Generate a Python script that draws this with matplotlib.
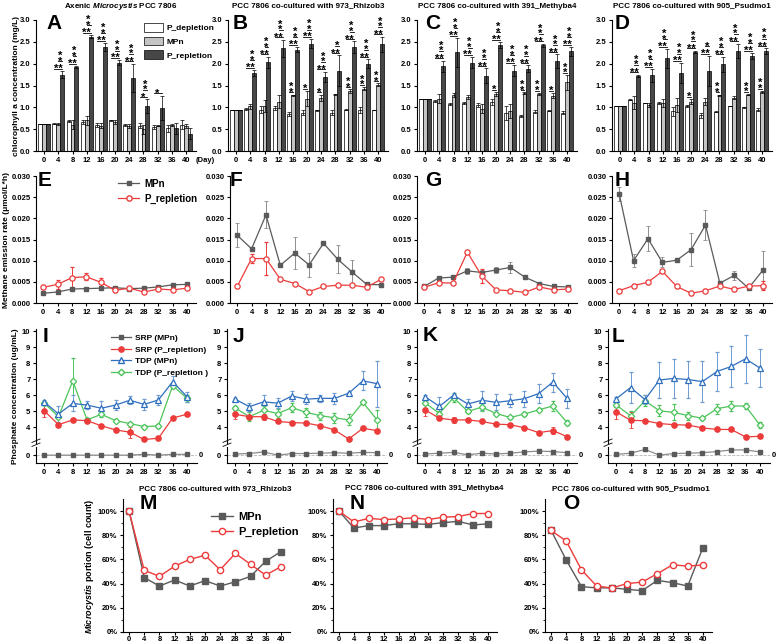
import numpy as np
import matplotlib.pyplot as plt
from matplotlib.lines import Line2D
from matplotlib.patches import Patch

plt.rcParams['font.family'] = ['Liberation Sans', 'DejaVu Sans']
plt.rcParams['font.weight'] = 'bold'
plt.rcParams['mathtext.fontset'] = 'custom'
plt.rcParams['mathtext.rm'] = 'Liberation Sans:bold'
plt.rcParams['mathtext.bfit'] = 'Liberation Sans:bold:italic'

# ---- data ----
days = [0, 4, 8, 12, 16, 20, 24, 28, 32, 36, 40]

titles = ['Axenic $\\mathbfit{Microcystis}$ PCC 7806',
          'PCC 7806 co-cultured with 973_Rhizob3',
          'PCC 7806 co-cultured with 391_Methyba4',
          'PCC 7806 co-cultured with 905_Psudmo1']

# chlorophyll a (mg/L)
dep_A = [0.62, 0.62, 0.68, 0.66, 0.60, 0.70, 0.60, 0.58, 0.55, 0.52, 0.60]
dep_A_err = [0, 0.01, 0.02, 0.04, 0.05, 0.02, 0.02, 0.05, 0.05, 0.08, 0.1]
mpn_A = [0.62, 0.62, 0.60, 0.70, 0.58, 0.67, 0.57, 0.50, 0.58, 0.60, 0.57]
mpn_A_err = [0, 0.02, 0.1, 0.1, 0.05, 0.05, 0.05, 0.1, 0.01, 0.02, 0.05]
rep_A = [0.62, 1.75, 1.93, 2.62, 2.38, 2.02, 1.67, 1.03, 0.99, 0.52, 0.40]
rep_A_err = [0, 0.08, 0.02, 0.04, 0.1, 0.06, 0.33, 0.15, 0.28, 0.12, 0.13]

dep_B = [0.93, 0.96, 0.95, 0.98, 0.85, 0.88, 0.93, 0.88, 0.95, 0.94, 0.94]
dep_B_err = [0, 0.02, 0.08, 0.05, 0.04, 0.06, 0.02, 0.06, 0.02, 0.06, 0.01]
mpn_B = [0.93, 1.02, 1.03, 1.13, 1.28, 1.20, 1.22, 1.30, 1.37, 1.43, 1.52]
mpn_B_err = [0, 0.05, 0.14, 0.15, 0.01, 0.17, 0.07, 0.01, 0.04, 0.03, 0.03]
rep_B = [0.93, 1.79, 2.03, 2.35, 2.32, 2.46, 1.70, 1.84, 2.38, 2.00, 2.44]
rep_B_err = [0, 0.07, 0.13, 0.2, 0.06, 0.1, 0.12, 0.35, 0.13, 0.1, 0.18]

dep_C = [1.2, 1.15, 1.07, 1.10, 1.06, 1.12, 0.87, 0.80, 0.90, 0.92, 0.88]
dep_C_err = [0, 0.02, 0.02, 0.02, 0.05, 0.06, 0.15, 0.03, 0.03, 0.01, 0.04]
mpn_C = [1.2, 1.20, 1.28, 1.23, 0.97, 1.31, 0.92, 1.32, 1.31, 1.27, 1.57]
mpn_C_err = [0, 0.1, 0.04, 0.05, 0.1, 0.04, 0.16, 0.02, 0.02, 0.06, 0.17]
rep_C = [1.2, 1.94, 2.26, 2.02, 1.72, 2.43, 1.84, 1.88, 2.42, 2.06, 2.28]
rep_C_err = [0, 0.13, 0.33, 0.13, 0.17, 0.07, 0.13, 0.08, 0.04, 0.15, 0.1]

dep_D = [1.02, 1.17, 1.10, 1.10, 0.91, 1.03, 0.82, 0.90, 1.03, 1.00, 0.95]
dep_D_err = [0, 0.01, 0.01, 0.03, 0.1, 0.03, 0.06, 0.01, 0.01, 0.01, 0.04]
mpn_D = [1.02, 1.11, 1.06, 1.10, 1.06, 1.13, 1.13, 1.28, 1.22, 1.29, 1.35]
mpn_D_err = [0, 0.15, 0.05, 0.1, 0.16, 0.06, 0.08, 0.01, 0.04, 0.01, 0.03]
rep_D = [1.02, 1.72, 1.73, 2.12, 1.78, 2.27, 1.83, 1.99, 2.29, 2.18, 2.29]
rep_D_err = [0, 0.03, 0.15, 0.22, 0.23, 0.03, 0.35, 0.17, 0.17, 0.07, 0.06]

# significance: depletion-vs-MPn, depletion-vs-repletion, MPn-vs-repletion
sig_wg_A = [''] * 11
sig_dr_A = ['', '**', '**', '**', '**', '**', '**', '*', '*', '', '']
sig_gr_A = ['', '**', '**', '**', '**', '**', '**', '**', '', '', '']
sig_wg_B = ['', '', '', '', '**', '*', '*', '', '**', '**', '**']
sig_dr_B = [''] + ['**'] * 10
sig_gr_B = ['', '**', '**', '**', '**', '**', '**', '*', '**', '**', '**']
sig_wg_C = ['', '', '', '', '', '*', '', '**', '**', '*', '**']
sig_dr_C = [''] + ['**'] * 10
sig_gr_C = [''] + ['**'] * 10
sig_wg_D = ['', '', '', '', '', '*', '', '**', '', '**', '**']
sig_dr_D = [''] + ['**'] * 10
sig_gr_D = ['', '**', '**', '**', '**', '**', '*', '**', '**', '**', '**']

# methane emission rate (umol/L*h)
ch4_mpn_E = [0.0023, 0.0026, 0.0033, 0.0034, 0.0035, 0.0036, 0.0034, 0.0035, 0.0038, 0.0043, 0.0044]
ch4_mpn_E_err = [0.0003] * 11
ch4_rep_E = [0.0037, 0.0044, 0.0060, 0.0062, 0.0049, 0.0030, 0.0035, 0.0026, 0.0033, 0.0031, 0.0035]
ch4_rep_E_err = [0.0005, 0.001, 0.0025, 0.0008, 0.001, 0.0003, 0.0003, 0.0003, 0.0003, 0.0003, 0.0003]
ch4_mpn_F = [0.0160, 0.0128, 0.0208, 0.0089, 0.0118, 0.0090, 0.0141, 0.0103, 0.0073, 0.0044, 0.0043]
ch4_mpn_F_err = [0.0028, 0.0003, 0.0032, 0.0005, 0.0037, 0.0028, 0.0003, 0.0033, 0.0028, 0.0003, 0.0003]
ch4_rep_F = [0.0039, 0.0105, 0.0105, 0.0056, 0.0046, 0.0027, 0.0039, 0.0042, 0.0042, 0.0037, 0.0056]
ch4_rep_F_err = [0.0003, 0.001, 0.0038, 0.0003, 0.0003, 0.0003, 0.0003, 0.0003, 0.0003, 0.0003, 0.0003]
ch4_mpn_G = [0.0039, 0.0059, 0.0061, 0.0076, 0.0072, 0.0078, 0.0084, 0.0061, 0.0046, 0.0039, 0.0038]
ch4_mpn_G_err = [0.0003, 0.0003, 0.0003, 0.0007, 0.0005, 0.0008, 0.0014, 0.0003, 0.0003, 0.0003, 0.0003]
ch4_rep_G = [0.0037, 0.0048, 0.0047, 0.0120, 0.0064, 0.0031, 0.0029, 0.0025, 0.0038, 0.0031, 0.0033]
ch4_rep_G_err = [0.0003, 0.0003, 0.0003, 0.0003, 0.0017, 0.0003, 0.0003, 0.0003, 0.0003, 0.0003, 0.0003]
ch4_mpn_H = [0.0258, 0.0100, 0.0152, 0.0096, 0.0101, 0.0126, 0.0184, 0.0047, 0.0065, 0.0035, 0.0078]
ch4_mpn_H_err = [0.0017, 0.0015, 0.003, 0.0012, 0.0003, 0.0039, 0.0035, 0.0003, 0.001, 0.0005, 0.0044]
ch4_rep_H = [0.0029, 0.0041, 0.0049, 0.0075, 0.0039, 0.0023, 0.0029, 0.0040, 0.0032, 0.0040, 0.0041]
ch4_rep_H_err = [0.0003, 0.0003, 0.0003, 0.0003, 0.0003, 0.0003, 0.0003, 0.0003, 0.0003, 0.0003, 0.001]

# phosphate (ug/mL)
srp_mpn_I = [0.0, 0.0, 0.0, 0.0, 0.0, 0.0, 0.0, 0.05, 0.0, 0.05, 0.05]
srp_rep_I = [5.02, 4.15, 4.45, 4.40, 4.08, 3.82, 3.68, 3.22, 3.30, 4.57, 4.80]
srp_rep_I_err = [0.4, 0.1, 0.1, 0.1, 0.1, 0.1, 0.35, 0.1, 0.1, 0.1, 0.1]
tdp_mpn_I = [5.58, 4.82, 5.48, 5.38, 5.18, 5.38, 5.68, 5.42, 5.70, 6.85, 5.90]
tdp_mpn_I_err = [0.1, 0.5, 0.5, 0.25, 0.45, 0.3, 0.25, 0.35, 0.3, 0.35, 0.3]
tdp_rep_I = [5.50, 4.65, 6.90, 4.45, 4.80, 4.40, 4.22, 4.03, 4.07, 6.60, 5.80]
tdp_rep_I_err = [0.1, 0.1, 1.45, 0.1, 0.2, 0.1, 0.1, 0.1, 0.1, 0.1, 0.2]

srp_mpn_J = [0.07, 0.1, 0.2, 0.0, 0.1, 0.1, 0.12, 0.15, 0.12, 0.17, 0.15]
srp_rep_J = [4.80, 4.65, 4.65, 4.35, 4.28, 4.25, 4.08, 3.82, 3.25, 3.92, 3.78]
srp_rep_J_err = [0.3, 0.1, 0.2, 0.1, 0.1, 0.1, 0.1, 0.15, 0.1, 0.1, 0.1]
tdp_mpn_J = [5.75, 5.28, 5.58, 5.50, 5.95, 5.75, 5.80, 5.80, 6.12, 6.90, 6.72]
tdp_mpn_J_err = [0.1, 0.25, 0.45, 0.3, 0.3, 0.3, 0.2, 0.35, 0.1, 0.6, 1.45]
tdp_rep_J = [5.20, 4.65, 5.05, 4.85, 5.22, 4.92, 4.72, 4.58, 4.45, 5.55, 4.45]
tdp_rep_J_err = [0.1, 0.3, 0.3, 0.3, 0.3, 0.3, 0.25, 0.3, 0.35, 0.1, 0.6]

srp_mpn_K = [0.07, 0.12, 0.17, 0.02, 0.12, 0.07, 0.12, 0.2, 0.25, 0.22, 0.15]
srp_rep_K = [5.08, 4.55, 4.45, 4.45, 4.35, 4.18, 4.15, 3.95, 3.65, 3.78, 3.40]
srp_rep_K_err = [0.4, 0.1, 0.2, 0.1, 0.1, 0.1, 0.1, 0.1, 0.1, 0.2, 0.1]
tdp_mpn_K = [5.90, 5.30, 6.00, 5.45, 5.68, 5.55, 5.65, 5.78, 6.10, 6.82, 5.80]
tdp_mpn_K_err = [0.1, 0.6, 0.1, 0.3, 0.6, 0.5, 0.4, 0.5, 0.6, 0.6, 0.6]
tdp_rep_K = [5.52, 4.85, 5.85, 4.98, 5.25, 4.85, 4.60, 4.82, 5.08, 5.32, 4.28]
tdp_rep_K_err = [0.1, 0.15, 0.3, 0.1, 0.25, 0.1, 0.1, 0.1, 0.1, 0.3, 0.15]

srp_mpn_L = [0.05, 0.12, 0.35, 0.0, 0.1, 0.12, 0.15, 0.22, 0.32, 0.32, 0.2]
srp_rep_L = [4.95, 4.42, 4.40, 4.22, 4.15, 4.12, 3.95, 3.85, 3.85, 3.38, 3.42]
srp_rep_L_err = [0.45, 0.5, 0.1, 0.1, 0.1, 0.1, 0.1, 0.1, 0.1, 0.1, 0.1]
tdp_mpn_L = [5.78, 6.48, 5.72, 6.95, 7.05, 6.98, 6.85, 7.48, 7.80, 8.28, 7.70]
tdp_mpn_L_err = [0.1, 1.0, 0.3, 1.1, 1.2, 1.15, 1.3, 1.2, 1.3, 1.5, 1.2]
tdp_rep_L = [5.38, 4.70, 5.65, 5.02, 4.92, 4.72, 4.55, 5.15, 5.32, 5.32, 4.12]
tdp_rep_L_err = [0.1, 0.3, 0.35, 0.35, 0.5, 0.25, 0.1, 0.3, 0.3, 0.2, 0.2]

# Microcystis portion (%)
por_mpn_M = [100, 45, 38, 43, 38, 42.5, 38, 41.5, 46, 58.5, 66.5]
por_rep_M = [100, 51, 46, 54.5, 60, 63.5, 51.5, 65, 56, 47, 54]
por_mpn_N = [100, 86, 88, 88, 89.5, 89.5, 89, 90.5, 91.5, 88.5, 89.5]
por_rep_N = [100, 91, 94, 93, 93.5, 94.5, 93, 95, 95.5, 98, 98]
por_mpn_O = [84, 59.5, 37.5, 36.5, 36.5, 35.3, 34.2, 42.7, 40.8, 38, 69.7]
por_rep_O = [84, 75.2, 51.5, 38, 36.4, 40, 41.3, 48.2, 55.6, 54.5, 55.4]

# ---- layout helpers ----
W, H = 778, 644
fig = plt.figure(figsize=(W / 100, H / 100), dpi=100)


def box(l, t, r, b):
    return [l / W, 1 - b / H, (r - l) / W, (b - t) / H]


def ftext(x, y, s, **kw):
    fig.text(x / W, 1 - y / H, s, **kw)


def style(ax, fs=5.5):
    ax.spines['top'].set_visible(False)
    ax.spines['right'].set_visible(False)
    ax.tick_params(labelsize=fs, width=0.8, length=2.5, pad=1.5)


GRAY = '#5a5a5a'
RED = '#ec3b3b'
BLUE = '#2f6fbf'
GREEN = '#4cc45a'
x = np.array(days)

# ---- row 1: chlorophyll bars ----
bar_sets = [(dep_A, dep_A_err, mpn_A, mpn_A_err, rep_A, rep_A_err, sig_wg_A, sig_dr_A, sig_gr_A),
            (dep_B, dep_B_err, mpn_B, mpn_B_err, rep_B, rep_B_err, sig_wg_B, sig_dr_B, sig_gr_B),
            (dep_C, dep_C_err, mpn_C, mpn_C_err, rep_C, rep_C_err, sig_wg_C, sig_dr_C, sig_gr_C),
            (dep_D, dep_D_err, mpn_D, mpn_D_err, rep_D, rep_D_err, sig_wg_D, sig_dr_D, sig_gr_D)]
row1_left = [36, 228, 417, 612]
bw = 1.1
ekw = dict(lw=0.5, capsize=1.5, capthick=0.5, ecolor='k')


def stars(ax, xc, y, label, stacked):
    # star glyph sits high in the em box, so anchor on the baseline below the line
    s = '\n'.join(label) if stacked else label
    ax.text(xc, y - 0.075, s, ha='center', va='baseline', fontsize=8, linespacing=0.47)


for k, (dep, dep_e, mpn, mpn_e, rep, rep_e, wg, dr, gr) in enumerate(bar_sets):
    l = row1_left[k]
    ax = fig.add_axes(box(l, 20, l + 160, 151))
    ax.bar(x - bw, dep, bw, yerr=dep_e, color='white', edgecolor='k', lw=0.5, error_kw=ekw)
    ax.bar(x, mpn, bw, yerr=mpn_e, color='#c4c4c4', edgecolor='k', lw=0.5, error_kw=ekw)
    ax.bar(x + bw, rep, bw, yerr=rep_e, color='#474747', edgecolor='k', lw=0.5, error_kw=ekw)
    for i, d in enumerate(days):
        top = rep[i] + rep_e[i] + 0.05
        if dr[i]:
            ax.plot([d - bw, d + bw], [top, top], color='k', lw=0.6)
            stars(ax, d, top, dr[i], False)
            top += 0.17
        if gr[i]:
            ax.plot([d, d + bw], [top, top], color='k', lw=0.6)
            stars(ax, d + bw / 2, top, gr[i], True)
        if wg[i]:
            yw = max(dep[i] + dep_e[i], mpn[i] + mpn_e[i]) + 0.05
            ax.plot([d - bw, d], [yw, yw], color='k', lw=0.6)
            stars(ax, d - bw / 2, yw, wg[i], True)
    ax.set_xlim(-2.3, 42.8)
    ax.set_ylim(0, 3.0)
    ax.set_xticks(days)
    ax.set_yticks([0, 0.5, 1.0, 1.5, 2.0, 2.5, 3.0])
    ax.set_yticklabels(['0.0', '0.5', '1.0', '1.5', '2.0', '2.5', '3.0'])
    style(ax)
    ftext(l + 80 + (5 if k == 0 else 0), 6, titles[k], ha='center', va='center', fontsize=5.8)
    if k == 0:
        ax.legend(handles=[Patch(facecolor='white', edgecolor='k', lw=0.5),
                           Patch(facecolor='#c4c4c4', edgecolor='k', lw=0.5),
                           Patch(facecolor='#474747', edgecolor='k', lw=0.5)],
                  labels=['P_depletion', 'MPn', 'P_repletion'],
                  loc='upper left', bbox_to_anchor=(140 / W, 1 - 19 / H), bbox_transform=fig.transFigure,
                  frameon=False, fontsize=6, handlelength=2.2, handleheight=1.2,
                  labelspacing=0.55, borderpad=0, handletextpad=0.5)

ftext(205, 160, '(Day)', ha='center', va='center', fontsize=5.5)
ftext(17, 86, 'chlorophyll a concentration (mg/L)', rotation=90, ha='center', va='center', fontsize=6)

# ---- row 2: methane ----
ch4_sets = [(ch4_mpn_E, ch4_mpn_E_err, ch4_rep_E, ch4_rep_E_err),
            (ch4_mpn_F, ch4_mpn_F_err, ch4_rep_F, ch4_rep_F_err),
            (ch4_mpn_G, ch4_mpn_G_err, ch4_rep_G, ch4_rep_G_err),
            (ch4_mpn_H, ch4_mpn_H_err, ch4_rep_H, ch4_rep_H_err)]
row2_left = [36, 230, 417, 612]
for k, (mpn, mpn_e, rep, rep_e) in enumerate(ch4_sets):
    l = row2_left[k]
    ax = fig.add_axes(box(l, 176, l + 160, 303))
    ax.errorbar(days, mpn, yerr=mpn_e, color=GRAY, marker='s', ms=3.5, lw=0.9,
                ecolor='#8c8c8c', elinewidth=0.7, capsize=1.5, capthick=0.6)
    ax.errorbar(days, rep, yerr=rep_e, color=RED, marker='o', ms=3.8, mfc='white', mew=0.9, lw=0.9,
                ecolor=RED, elinewidth=0.7, capsize=1.5, capthick=0.6)
    ax.set_xlim(-2, 42.5)
    ax.set_ylim(0, 0.030)
    ax.set_xticks(days)
    ax.set_yticks([0, 0.005, 0.010, 0.015, 0.020, 0.025, 0.030])
    ax.set_yticklabels(['0.000', '0.005', '0.010', '0.015', '0.020', '0.025', '0.030'])
    style(ax)
    if k == 0:
        ax.legend(handles=[Line2D([], [], color=GRAY, marker='s', ms=3.5, lw=0.9),
                           Line2D([], [], color=RED, marker='o', ms=3.8, mfc='white', lw=0.9)],
                  labels=['MPn', 'P_repletion'], loc='upper left',
                  bbox_to_anchor=(113 / W, 1 - 174 / H), bbox_transform=fig.transFigure,
                  frameon=False, fontsize=7, handlelength=2.2, labelspacing=0.5,
                  borderpad=0, handletextpad=0.5)
ftext(7, 240, 'Methane emission rate (\u03bcmol/L*h)', rotation=90, ha='center', va='center', fontsize=6)

# ---- row 3: phosphate with broken axis ----
p_sets = [(srp_mpn_I, srp_rep_I, srp_rep_I_err, tdp_mpn_I, tdp_mpn_I_err, tdp_rep_I, tdp_rep_I_err),
          (srp_mpn_J, srp_rep_J, srp_rep_J_err, tdp_mpn_J, tdp_mpn_J_err, tdp_rep_J, tdp_rep_J_err),
          (srp_mpn_K, srp_rep_K, srp_rep_K_err, tdp_mpn_K, tdp_mpn_K_err, tdp_rep_K, tdp_rep_K_err),
          (srp_mpn_L, srp_rep_L, srp_rep_L_err, tdp_mpn_L, tdp_mpn_L_err, tdp_rep_L, tdp_rep_L_err)]
row3_lr = [(36, 197), (227, 387), (417, 577), (608, 770)]
for k, (srp_m, srp_r, srp_r_e, tdp_m, tdp_m_e, tdp_r, tdp_r_e) in enumerate(p_sets):
    l, r = row3_lr[k]
    up = fig.add_axes(box(l, 329, r, 443))
    lo = fig.add_axes(box(l, 447, r, 463))
    up.errorbar(days, tdp_r, yerr=tdp_r_e, color=GREEN, marker='D', ms=3.3, mfc='white', mew=0.9, lw=0.9,
                elinewidth=0.7, capsize=1.5, capthick=0.6)
    up.errorbar(days, tdp_m, yerr=tdp_m_e, color=BLUE, marker='^', ms=4, mfc='white', mew=0.9, lw=0.9,
                ecolor='#6f9bd0', elinewidth=0.7, capsize=1.5, capthick=0.6)
    up.errorbar(days, srp_r, yerr=srp_r_e, color=RED, marker='o', ms=3.8, lw=0.9,
                elinewidth=0.7, capsize=1.5, capthick=0.6)
    lo.plot(days, srp_m, color='#8c8c8c', marker='s', ms=3.5, mfc=GRAY, mec=GRAY, lw=0.9)
    lo.axhline(0, color='#b4b4b4', ls='--', lw=0.6, zorder=0)
    lo.text(1.01, 0, '0', transform=lo.get_yaxis_transform(), ha='left', va='center', fontsize=5.5)
    for a in (up, lo):
        a.set_xlim(-2.3, 42.8)
        style(a)
    up.set_ylim(3.0, 10.15)
    up.set_yticks([4, 5, 6, 7, 8, 9, 10])
    up.spines['bottom'].set_visible(False)
    up.tick_params(axis='x', bottom=False, labelbottom=False)
    lo.set_ylim(-0.48, 0.5)
    lo.set_yticks([0])
    lo.set_xticks(days)
    for dy in (0.0, 0.035):
        up.plot([-0.025, 0.025], [-0.03 + dy, 0.0 + dy], transform=up.transAxes, color='k',
                lw=0.6, clip_on=False)
    if k == 0:
        up.legend(handles=[Line2D([], [], color=GRAY, marker='s', ms=3.5, lw=0.9),
                           Line2D([], [], color=RED, marker='o', ms=3.8, lw=0.9),
                           Line2D([], [], color=BLUE, marker='^', ms=4, mfc='white', lw=0.9),
                           Line2D([], [], color=GREEN, marker='D', ms=3.3, mfc='white', lw=0.9)],
                  labels=['SRP (MPn)', 'SRP (P_repletion)', 'TDP (MPn)', 'TDP (P_repletion )'],
                  loc='upper left', bbox_to_anchor=(107 / W, 1 - 330 / H), bbox_transform=fig.transFigure,
                  frameon=False, fontsize=6, handlelength=2.4, labelspacing=0.45,
                  borderpad=0, handletextpad=0.5)
ftext(16, 396, 'Phosphate concentration (ug/mL)', rotation=90, ha='center', va='center', fontsize=6)

# ---- row 4: Microcystis portion ----
por_sets = [(por_mpn_M, por_rep_M), (por_mpn_N, por_rep_N), (por_mpn_O, por_rep_O)]
row4_lr = [(123, 290), (333, 497), (545, 712)]
for k, (mpn, rep) in enumerate(por_sets):
    l, r = row4_lr[k]
    ax = fig.add_axes(box(l, 499, r, 632))
    ax.plot(days, mpn, color=GRAY, marker='s', ms=4.5, lw=1.0)
    ax.plot(days, rep, color=RED, marker='o', ms=4.5, mfc='white', mew=1.0, lw=1.0)
    ax.set_xlim(-1.6, 42.4)
    ax.set_ylim(0, 110)
    ax.set_xticks(days)
    ax.set_yticks([0, 20, 40, 60, 80, 100])
    ax.set_yticklabels(['0%', '20%', '40%', '60%', '80%', '100%'])
    ax.set_yticks([10, 30, 50, 70, 90], minor=True)
    style(ax)
    ax.tick_params(axis='x', length=2, pad=0.8)
    ax.tick_params(axis='y', which='minor', length=1.5, width=0.6)
    ftext((l + r) / 2 + (9 if k < 2 else 2), 489, titles[k + 1], ha='center', va='center', fontsize=5.8)
    if k == 0:
        ax.legend(handles=[Line2D([], [], color=GRAY, marker='s', ms=4.5, lw=1.0),
                           Line2D([], [], color=RED, marker='o', ms=4.5, mfc='white', lw=1.0)],
                  labels=['MPn', 'P_repletion'], loc='upper left',
                  bbox_to_anchor=(205 / W, 1 - 506 / H), bbox_transform=fig.transFigure,
                  frameon=False, fontsize=8, handlelength=2.0, labelspacing=0.5,
                  borderpad=0, handletextpad=0.5)
ftext(89, 566, '$\\mathbfit{Microcystis}$ portion (cell count)', rotation=90, ha='center', va='center',
      fontsize=6.5)

# ---- panel letters ----
letters = [('A', 46, 14), ('B', 233, 14), ('C', 425, 14), ('D', 615, 14),
           ('E', 38, 171), ('F', 230, 171), ('G', 425, 171), ('H', 615, 171),
           ('I', 43, 327), ('J', 233, 327), ('K', 423, 326), ('L', 612, 327),
           ('M', 140, 494), ('N', 350, 494), ('O', 563, 494)]
for s, lx, ly in letters:
    ftext(lx, ly, s, ha='left', va='top', fontsize=15)

fig.savefig('out.png', dpi=100)
